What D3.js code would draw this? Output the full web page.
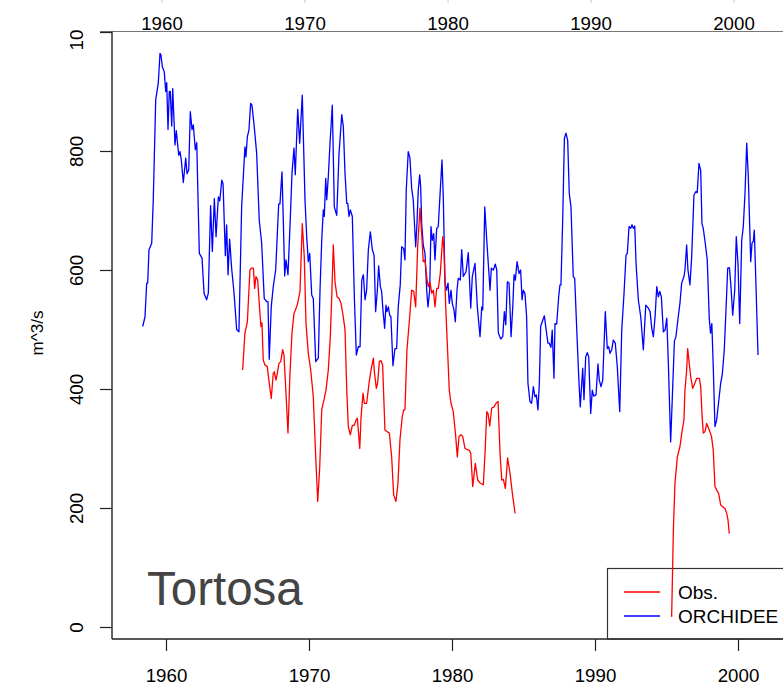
<!DOCTYPE html>
<html>
<head>
<meta charset="utf-8">
<script src="https://cdn.jsdelivr.net/npm/d3@7"></script>
<style>
  body { margin: 0; background: #fff; }
  svg { display: block; font-family: "Liberation Sans", Arial, sans-serif; }
  .axis-label { font-size: 18.7px; fill: #000; }
</style>
</head>
<body>
<svg id="chart" width="783" height="686"></svg>
<script>
// Tick values
const xTicks = [1960, 1970, 1980, 1990, 2000];
const yTicks = [0, 200, 400, 600, 800, 1000];

// ORCHIDEE simulated discharge (m^3/s)
const orchYears = [
  1958.37, 1958.53, 1958.65, 1958.72, 1958.81, 1959.00, 1959.11, 1959.28, 1959.46, 1959.58,
  1959.65, 1959.74, 1959.88, 1959.98, 1960.05, 1960.14, 1960.23, 1960.30, 1960.40, 1960.47,
  1960.63, 1960.72, 1960.89, 1960.98, 1961.07, 1961.21, 1961.38, 1961.47, 1961.59, 1961.70,
  1961.82, 1961.91, 1962.05, 1962.15, 1962.33, 1962.52, 1962.66, 1962.84, 1962.96, 1963.12,
  1963.24, 1963.38, 1963.50, 1963.66, 1963.76, 1963.90, 1963.99, 1964.15, 1964.24, 1964.34,
  1964.45, 1964.59, 1964.76, 1964.94, 1965.10, 1965.29, 1965.52, 1965.59, 1965.69, 1965.80,
  1965.92, 1966.01, 1966.15, 1966.34, 1966.52, 1966.69, 1966.87, 1967.04, 1967.13, 1967.22,
  1967.36, 1967.50, 1967.67, 1967.88, 1967.97, 1968.11, 1968.20, 1968.30, 1968.39, 1968.53,
  1968.67, 1968.81, 1968.95, 1969.04, 1969.21, 1969.35, 1969.53, 1969.72, 1969.84, 1969.95,
  1970.05, 1970.19, 1970.30, 1970.47, 1970.65, 1970.77, 1970.89, 1971.00, 1971.07, 1971.17,
  1971.24, 1971.35, 1971.47, 1971.63, 1971.77, 1971.94, 1972.10, 1972.29, 1972.40, 1972.52,
  1972.64, 1972.71, 1972.80, 1972.89, 1973.03, 1973.17, 1973.31, 1973.45, 1973.57, 1973.69,
  1973.80, 1973.92, 1974.03, 1974.15, 1974.29, 1974.43, 1974.55, 1974.66, 1974.78, 1974.87,
  1974.99, 1975.08, 1975.17, 1975.29, 1975.38, 1975.45, 1975.55, 1975.64, 1975.73, 1975.87,
  1976.01, 1976.13, 1976.24, 1976.38, 1976.48, 1976.62, 1976.71, 1976.80, 1976.94, 1977.06,
  1977.18, 1977.29, 1977.46, 1977.55, 1977.64, 1977.74, 1977.81, 1977.88, 1977.99, 1978.11,
  1978.23, 1978.32, 1978.44, 1978.53, 1978.62, 1978.72, 1978.81, 1978.93, 1979.04, 1979.18,
  1979.30, 1979.39, 1979.51, 1979.60, 1979.72, 1979.81, 1979.93, 1980.02, 1980.14, 1980.23,
  1980.35, 1980.44, 1980.58, 1980.68, 1980.79, 1980.98, 1981.14, 1981.31, 1981.42, 1981.61,
  1981.77, 1981.96, 1982.08, 1982.15, 1982.29, 1982.43, 1982.52, 1982.66, 1982.75, 1982.89,
  1983.03, 1983.13, 1983.24, 1983.41, 1983.55, 1983.66, 1983.76, 1983.87, 1983.99, 1984.13,
  1984.25, 1984.34, 1984.43, 1984.55, 1984.69, 1984.80, 1984.90, 1984.99, 1985.10, 1985.22,
  1985.31, 1985.45, 1985.57, 1985.69, 1985.80, 1985.90, 1986.01, 1986.11, 1986.20, 1986.34,
  1986.46, 1986.57, 1986.71, 1986.80, 1986.92, 1987.01, 1987.13, 1987.20, 1987.32, 1987.46,
  1987.55, 1987.62, 1987.74, 1987.86, 1987.97, 1988.09, 1988.20, 1988.32, 1988.48, 1988.58,
  1988.72, 1988.86, 1988.97, 1989.14, 1989.23, 1989.35, 1989.46, 1989.56, 1989.70, 1989.81,
  1989.91, 1990.07, 1990.21, 1990.30, 1990.42, 1990.54, 1990.72, 1990.86, 1990.96, 1991.05,
  1991.17, 1991.28, 1991.42, 1991.56, 1991.73, 1991.87, 1992.03, 1992.17, 1992.26, 1992.38,
  1992.50, 1992.59, 1992.68, 1992.78, 1992.87, 1993.03, 1993.20, 1993.38, 1993.55, 1993.73,
  1993.85, 1993.97, 1994.08, 1994.20, 1994.32, 1994.43, 1994.53, 1994.64, 1994.78, 1994.90,
  1995.02, 1995.13, 1995.29, 1995.41, 1995.55, 1995.66, 1995.82, 1995.94, 1996.06, 1996.22,
  1996.29, 1996.41, 1996.50, 1996.64, 1996.76, 1996.92, 1997.06, 1997.15, 1997.27, 1997.39,
  1997.48, 1997.57, 1997.71, 1997.85, 1997.99, 1998.08, 1998.17, 1998.27, 1998.39, 1998.51,
  1998.65, 1998.79, 1998.90, 1999.04, 1999.16, 1999.28, 1999.40, 1999.51, 1999.63, 1999.77,
  1999.88, 2000.00, 2000.12, 2000.26, 2000.37, 2000.49, 2000.61, 2000.72, 2000.89, 2000.98,
  2001.07, 2001.14, 2001.26, 2001.40
];
const orchValues = [
  505, 521, 578, 578, 634, 645, 718, 886, 914, 964,
  961, 942, 933, 900, 915, 836, 900, 900, 842, 905,
  810, 834, 793, 799, 785, 747, 788, 762, 768, 866,
  836, 844, 802, 814, 628, 620, 561, 550, 561, 708,
  631, 720, 656, 723, 716, 751, 745, 624, 676, 592,
  652, 603, 561, 500, 496, 706, 807, 790, 824, 835,
  880, 877, 846, 796, 684, 645, 552, 547, 547, 450,
  538, 572, 600, 711, 711, 765, 687, 590, 617, 592,
  673, 762, 805, 760, 870, 813, 894, 718, 656, 614,
  628, 558, 552, 446, 452, 566, 650, 701, 690, 754,
  718, 757, 813, 877, 706, 692, 796, 861, 841, 762,
  712, 712, 690, 701, 690, 555, 457, 471, 471, 583,
  592, 550, 566, 634, 664, 634, 625, 530, 566, 607,
  572, 564, 533, 502, 541, 530, 538, 524, 521, 439,
  468, 468, 538, 575, 639, 636, 617, 734, 799, 788,
  737, 718, 639, 678, 734, 760, 740, 678, 642, 628,
  566, 538, 566, 673, 650, 661, 617, 670, 673, 734,
  785, 723, 578, 566, 578, 544, 566, 544, 533, 513,
  566, 586, 583, 634, 589, 597, 629, 536, 589, 611,
  538, 488, 538, 533, 706, 650, 617, 566, 603, 600,
  610, 600, 494, 484, 488, 530, 508, 580, 578, 488,
  538, 592, 583, 614, 594, 600, 550, 566, 561, 521,
  410, 379, 376, 404, 387, 390, 365, 410, 505, 515,
  523, 502, 477, 477, 470, 499, 418, 510, 509, 555,
  575, 575, 684, 821, 830, 818, 729, 706, 589, 586,
  502, 421, 370, 435, 382, 454, 461, 454, 359, 398,
  388, 390, 442, 415, 404, 415, 530, 468, 471, 460,
  466, 482, 477, 437, 362, 499, 561, 625, 628, 673,
  670, 676, 670, 674, 611, 550, 521, 466, 541, 536,
  530, 502, 488, 521, 572, 555, 564, 555, 496, 499,
  519, 443, 311, 387, 480, 488, 521, 544, 578, 589,
  600, 642, 600, 575, 622, 726, 732, 730, 779, 768,
  678, 670, 645, 617, 519, 494, 510, 437, 337, 348,
  379, 410, 424, 466, 533, 603, 604, 572, 524, 566,
  656, 611, 510, 650, 673, 729, 813, 757, 614, 645,
  648, 667, 572, 457
];

// Observed discharge (m^3/s); null marks the gap in the record
const obsYears = [
  1965.36, 1965.52, 1965.69, 1965.87, 1965.97, 1966.11, 1966.20, 1966.29, 1966.41, 1966.52,
  1966.64, 1966.71, 1966.80, 1966.92, 1967.08, 1967.22, 1967.36, 1967.50, 1967.57, 1967.69,
  1967.78, 1967.90, 1968.02, 1968.16, 1968.25, 1968.39, 1968.53, 1968.67, 1968.81, 1968.95,
  1969.13, 1969.21, 1969.37, 1969.53, 1969.67, 1969.79, 1969.95, 1970.12, 1970.30, 1970.47,
  1970.61, 1970.75, 1970.89, 1971.05, 1971.19, 1971.35, 1971.49, 1971.59, 1971.70, 1971.82,
  1971.96, 1972.10, 1972.24, 1972.40, 1972.52, 1972.64, 1972.75, 1972.89, 1973.03, 1973.17,
  1973.29, 1973.38, 1973.55, 1973.64, 1973.78, 1973.87, 1974.03, 1974.20, 1974.34, 1974.50,
  1974.57, 1974.71, 1974.80, 1974.92, 1975.03, 1975.15, 1975.31, 1975.48, 1975.62, 1975.78,
  1975.92, 1976.08, 1976.22, 1976.36, 1976.52, 1976.62, 1976.71, 1976.85, 1977.04, 1977.18,
  1977.32, 1977.46, 1977.60, 1977.76, 1977.88, 1977.99, 1978.11, 1978.23, 1978.34, 1978.46,
  1978.58, 1978.70, 1978.81, 1978.93, 1979.04, 1979.18, 1979.35, 1979.44, 1979.56, 1979.70,
  1979.81, 1979.93, 1980.09, 1980.26, 1980.37, 1980.49, 1980.63, 1980.75, 1980.91, 1981.21,
  1981.31, 1981.45, 1981.63, 1981.80, 1981.96, 1982.19, 1982.31, 1982.43, 1982.52, 1982.64,
  1982.78, 1982.94, 1983.08, 1983.22, 1983.36, 1983.48, 1983.59, 1983.73, 1983.89, 1984.06,
  1984.22, 1984.41, 1990.00,
  1995.36, 1995.48, 1995.59, 1995.76, 1995.94, 1996.08, 1996.22, 1996.29, 1996.41, 1996.48,
  1996.59, 1996.69, 1996.83, 1996.99, 1997.11, 1997.30, 1997.39, 1997.48, 1997.57, 1997.69,
  1997.81, 1997.99, 1998.15, 1998.27, 1998.39, 1998.51, 1998.65, 1998.79, 1998.93, 1999.09,
  1999.21, 1999.30, 1999.39
];
const obsValues = [
  432, 494, 513, 600, 603, 603, 569, 589, 583, 544,
  505, 511, 449, 440, 438, 410, 384, 426, 429, 415,
  426, 443, 446, 466, 457, 393, 326, 426, 494, 527,
  538, 544, 564, 678, 622, 510, 460, 432, 387, 286,
  211, 269, 365, 382, 398, 432, 488, 555, 642, 580,
  555, 552, 544, 521, 499, 398, 337, 323, 339, 339,
  348, 351, 300, 353, 393, 376, 376, 410, 432, 452,
  429, 401, 410, 446, 448, 440, 331, 328, 326, 286,
  222, 211, 241, 314, 353, 365, 365, 466, 521, 566,
  564, 538, 639, 704, 661, 614, 617, 589, 572, 580,
  561, 566, 538, 569, 569, 594, 656, 634, 538, 460,
  398, 376, 362, 320, 286, 320, 323, 320, 300, 297,
  292, 236, 275, 247, 242, 239, 292, 362, 359, 338,
  368, 370, 376, 379, 292, 247, 248, 233, 284, 258,
  225, 191, null,
  17, 163, 241, 286, 303, 328, 348, 398, 432, 468,
  443, 421, 401, 410, 418, 418, 404, 359, 326, 328,
  342, 331, 320, 297, 236, 230, 224, 205, 202, 199,
  191, 180, 157
];

const legendLabels = ["Obs.", "ORCHIDEE"];
const legendColors = ["#ff0000", "#0000ff"];

// Layout
const plotLeft = 112, plotTop = 31.5, plotBottom = 639;
const width = 783;

const svg = d3.select("#chart");

const x = d3.scaleLinear().domain([1960, 2000]).range([166, 738]);
const y = d3.scaleLinear().domain([0, 1000]).range([627, 32]);

// Faint tick tips at the very top (from the panel above)
svg.selectAll(".top-tip")
    .data(xTicks)
    .enter()
    .append("line")
    .attr("x1", d => x(d) - 4)
    .attr("x2", d => x(d) - 4)
    .attr("y1", 0)
    .attr("y2", 3)
    .style("stroke", "#c8c8c8")
    .style("stroke-width", 1);

// Top year labels
svg.selectAll(".top-label")
    .data(xTicks)
    .enter()
    .append("text")
    .attr("class", "axis-label")
    .attr("x", d => x(d) - 4)
    .attr("y", 30)
    .attr("text-anchor", "middle")
    .text(d => d);

// Box lines
svg.append("line")
    .attr("x1", 100).attr("x2", width)
    .attr("y1", plotTop).attr("y2", plotTop)
    .style("stroke", "#777").style("stroke-width", 1);

svg.append("line")
    .attr("x1", plotLeft).attr("x2", plotLeft)
    .attr("y1", plotTop).attr("y2", plotBottom)
    .style("stroke", "#222").style("stroke-width", 1.4);

svg.append("line")
    .attr("x1", plotLeft).attr("x2", width)
    .attr("y1", plotBottom).attr("y2", plotBottom)
    .style("stroke", "#222").style("stroke-width", 1.4);

// Bottom axis
const xAxis = svg.append("g")
    .attr("transform", `translate(0,${plotBottom})`)
    .call(d3.axisBottom(x).tickValues(xTicks).tickFormat(d3.format("d"))
        .tickSize(12).tickPadding(18));
xAxis.select(".domain").remove();
xAxis.selectAll("line").style("stroke", "#222").style("stroke-width", 1.2);
xAxis.selectAll("text")
    .attr("class", "axis-label")
    .style("font-family", "'Liberation Sans', Arial, sans-serif");

// Left axis with rotated labels
const yAxis = svg.append("g")
    .attr("transform", `translate(${plotLeft},0)`)
    .call(d3.axisLeft(y).tickValues(yTicks).tickSize(12)
        .tickFormat(d => d === 1000 ? "10" : d));
yAxis.select(".domain").remove();
yAxis.selectAll("line").style("stroke", "#222").style("stroke-width", 1.2);
yAxis.selectAll("text")
    .attr("class", "axis-label")
    .style("font-family", "'Liberation Sans', Arial, sans-serif")
    .attr("x", 0)
    .attr("dy", 0)
    .attr("text-anchor", d => d === 1000 ? "start" : "middle")
    .attr("transform", d => d === 1000 ? "translate(-29,18) rotate(-90)" : "translate(-29,0) rotate(-90)");

// Y axis title
svg.append("text")
    .attr("transform", "translate(43,333) rotate(-90)")
    .attr("text-anchor", "middle")
    .style("font-size", "17px")
    .style("fill", "#000")
    .text("m^3/s");

// Station name
svg.append("text")
    .attr("x", 147)
    .attr("y", 605)
    .style("font-size", "47.5px")
    .style("fill", "#444")
    .text("Tortosa");

// Legend (drawn before the lines, no fill)
const legend = svg.append("g");
legend.append("rect")
    .attr("x", 607.5)
    .attr("y", 568.5)
    .attr("width", 200)
    .attr("height", plotBottom - 568.5)
    .style("fill", "none")
    .style("stroke", "#333")
    .style("stroke-width", 1.2);

legend.selectAll(".leg-line")
    .data(legendLabels)
    .enter()
    .append("line")
    .attr("x1", 624).attr("x2", 660)
    .attr("y1", (d, i) => 592 + i * 24)
    .attr("y2", (d, i) => 592 + i * 24)
    .style("stroke", (d, i) => legendColors[i])
    .style("stroke-width", 1.3);

legend.selectAll(".leg-text")
    .data(legendLabels)
    .enter()
    .append("text")
    .attr("x", 678)
    .attr("y", (d, i) => 599 + i * 24)
    .style("font-size", "19px")
    .style("fill", "#000")
    .text(d => d);

// Series lines
const line = d3.line()
    .defined(d => d[1] !== null)
    .x(d => x(d[0]))
    .y(d => y(d[1]));

svg.append("path")
    .datum(orchYears.map((t, i) => [t, orchValues[i]]))
    .attr("d", line)
    .style("fill", "none")
    .style("stroke", "#0000ff")
    .style("stroke-width", 1.3)
    .style("stroke-linejoin", "round");

svg.append("path")
    .datum(obsYears.map((t, i) => [t, obsValues[i]]))
    .attr("d", line)
    .style("fill", "none")
    .style("stroke", "#ff0000")
    .style("stroke-width", 1.3)
    .style("stroke-linejoin", "round");
</script>
</body>
</html>
